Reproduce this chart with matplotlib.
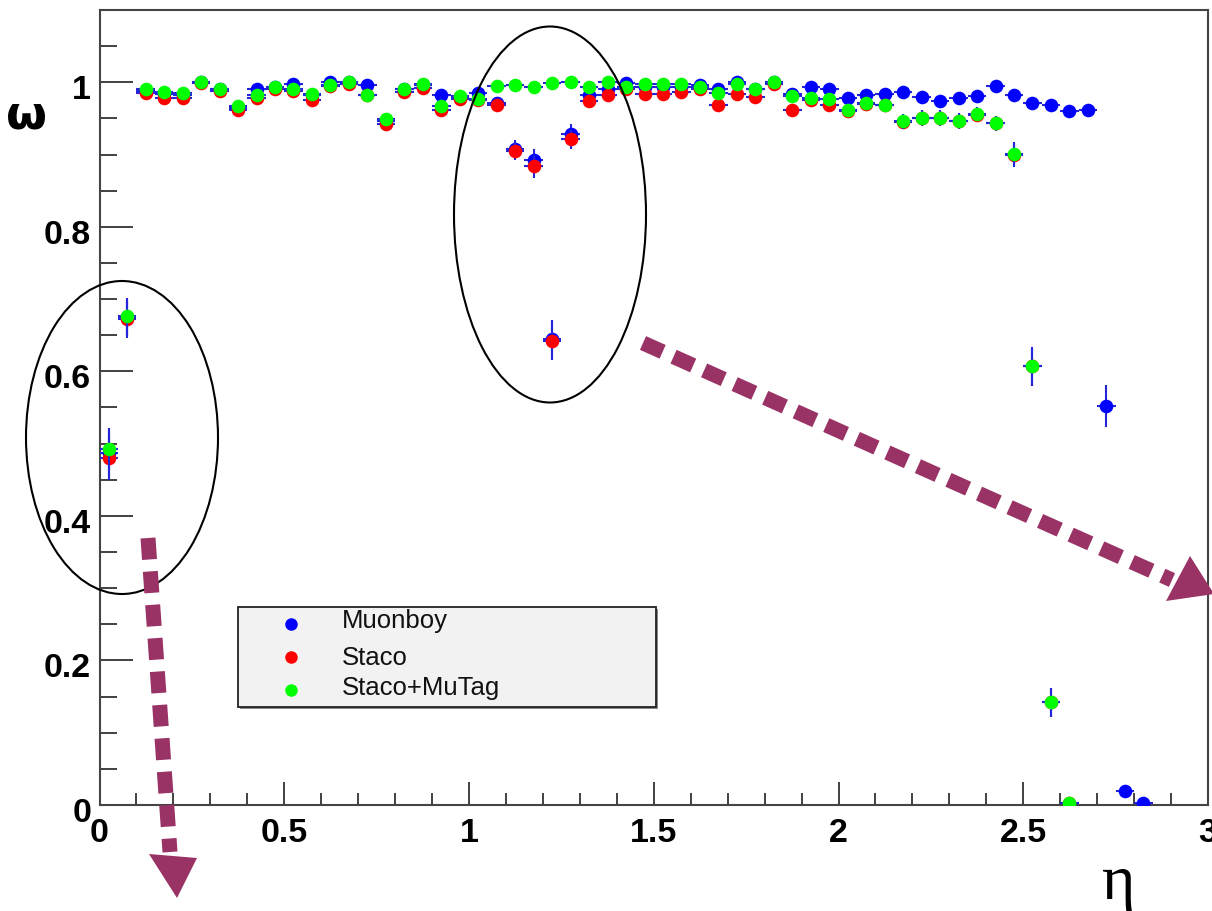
import numpy as np
import matplotlib
matplotlib.use("Agg")
import matplotlib.pyplot as plt
from matplotlib.patches import Ellipse, Rectangle, Polygon
from matplotlib.lines import Line2D
from matplotlib.ticker import MultipleLocator
import matplotlib.transforms as mtransforms

plt.rcParams['lines.scale_dashes'] = False

# ---------------- data ----------------
eta = np.round(np.arange(57) * 0.05 + 0.025, 3)
nan = np.nan
muonboy = [0.487, 0.675, 0.988, 0.984, 0.983, 1.000, 0.990, 0.965, 0.991, 0.993,
           0.997, 0.983, 1.000, 1.000, 0.996, 0.947, 0.990, 0.996, 0.982, 0.980,
           0.985, 0.972, 0.908, 0.892, 0.645, 0.929, 0.982, 0.991, 0.999, 0.993,
           0.993, 0.994, 0.996, 0.990, 1.000, 0.990, 1.000, 0.984, 0.994, 0.990,
           0.978, 0.983, 0.984, 0.987, 0.979, 0.974, 0.978, 0.981, 0.995, 0.983,
           0.971, 0.968, 0.960, 0.962, 0.552, 0.019, 0.003]
staco = [0.480, 0.672, 0.985, 0.978, 0.978, 0.999, 0.988, 0.962, 0.978, 0.990,
         0.988, 0.975, 0.995, 0.997, 0.982, 0.942, 0.986, 0.992, 0.961, 0.977,
         0.976, 0.968, 0.905, 0.884, 0.642, 0.921, 0.974, 0.983, 0.990, 0.984,
         0.984, 0.987, 0.990, 0.968, 0.984, 0.979, 0.998, 0.962, 0.975, 0.968,
         0.960, 0.970, 0.968, 0.945, 0.950, 0.950, 0.946, 0.955, 0.943, 0.900,
         0.607, 0.142, 0.003, nan, nan, nan, nan]
staco_mutag = [0.492, 0.676, 0.990, 0.987, 0.985, 1.000, 0.991, 0.967, 0.982, 0.994,
               0.990, 0.984, 0.996, 1.000, 0.983, 0.949, 0.990, 0.997, 0.967, 0.981,
               0.977, 0.995, 0.996, 0.994, 0.999, 1.000, 0.994, 1.000, 0.994, 0.997,
               0.997, 0.997, 0.994, 0.985, 0.997, 0.991, 1.000, 0.981, 0.978, 0.977,
               0.961, 0.971, 0.969, 0.946, 0.951, 0.951, 0.947, 0.956, 0.944, 0.901,
               0.607, 0.142, 0.003, nan, nan, nan, nan]

err_mb = [0.033, 0.026, 0.004, 0.004, 0.004, 0.003, 0.004, 0.006, 0.004, 0.004,
          0.004, 0.004, 0.003, 0.003, 0.004, 0.008, 0.004, 0.004, 0.006, 0.005,
          0.005, 0.006, 0.012, 0.016, 0.026, 0.013, 0.005, 0.004, 0.003, 0.004,
          0.004, 0.004, 0.004, 0.004, 0.003, 0.004, 0.003, 0.005, 0.004, 0.004,
          0.005, 0.005, 0.005, 0.005, 0.005, 0.005, 0.005, 0.005, 0.004, 0.005,
          0.005, 0.005, 0.006, 0.006, 0.029, 0.005, 0.003]
err_st = [0.030, 0.026, 0.004, 0.004, 0.004, 0.003, 0.004, 0.006, 0.004, 0.004,
          0.004, 0.004, 0.003, 0.003, 0.004, 0.008, 0.004, 0.004, 0.006, 0.005,
          0.005, 0.006, 0.012, 0.016, 0.026, 0.013, 0.005, 0.004, 0.004, 0.004,
          0.004, 0.004, 0.004, 0.005, 0.004, 0.004, 0.003, 0.006, 0.005, 0.005,
          0.006, 0.006, 0.006, 0.010, 0.010, 0.010, 0.010, 0.010, 0.010, 0.017,
          0.027, 0.020, 0.003, nan, nan, nan, nan]
err_mt = [0.030, 0.026, 0.004, 0.004, 0.004, 0.003, 0.004, 0.006, 0.004, 0.004,
          0.004, 0.004, 0.003, 0.003, 0.004, 0.008, 0.004, 0.004, 0.006, 0.005,
          0.005, 0.003, 0.003, 0.003, 0.003, 0.003, 0.003, 0.003, 0.003, 0.003,
          0.003, 0.003, 0.003, 0.004, 0.003, 0.004, 0.003, 0.005, 0.005, 0.005,
          0.006, 0.006, 0.006, 0.010, 0.010, 0.010, 0.010, 0.010, 0.010, 0.017,
          0.027, 0.020, 0.003, nan, nan, nan, nan]
bin_half = 0.025

series_names = ["Muonboy", "Staco", "Staco+MuTag"]
series_colors = ["#0000ff", "#ff0000", "#00ff00"]
series_values = [muonboy, staco, staco_mutag]
series_errors = [err_mb, err_st, err_mt]

x_ticks = [0, 0.5, 1, 1.5, 2, 2.5, 3]
x_ticklabels = ["0", "0.5", "1", "1.5", "2", "2.5", "3"]
y_ticks = [0, 0.2, 0.4, 0.6, 0.8, 1.0]
y_ticklabels = ["0", "0.2", "0.4", "0.6", "0.8", "1"]

# ---------------- figure ----------------
W, H = 1212, 911
fig = plt.figure(figsize=(W / 100, H / 100), dpi=100)
ax = fig.add_axes([99.5 / W, 1 - 805 / H, (1208 - 99.5) / W, (805 - 10) / H])

def fp(x, y):
    """pixel (from top-left) -> figure fraction"""
    return (x / W, 1 - y / H)

ecol = "#2424d8"
for name, col, vals, errs, z in zip(series_names, series_colors, series_values,
                                   series_errors, [3, 4, 5]):
    v = np.array(vals, dtype=float)
    e = np.array(errs, dtype=float)
    m = ~np.isnan(v)
    ax.errorbar(eta[m], v[m], yerr=e[m], xerr=bin_half, fmt='o', color=col,
                ecolor=ecol, elinewidth=1.5, capsize=0, ms=9.8, mew=0,
                zorder=z, label=name)

ax.set_xlim(0, 3)
ax.set_ylim(0, 1.1)
ax.set_xticks(x_ticks)
ax.set_xticklabels(x_ticklabels)
ax.set_yticks(y_ticks)
ax.set_yticklabels(y_ticklabels)
ax.xaxis.set_minor_locator(MultipleLocator(0.1))
ax.yaxis.set_minor_locator(MultipleLocator(0.05))
ax.tick_params(axis='x', which='major', direction='in', length=16.5, width=1.3,
               color='#333333', pad=9, labelsize=24.5)
ax.tick_params(axis='x', which='minor', direction='in', length=8.6, width=1.3,
               color='#333333')
ax.tick_params(axis='y', which='major', direction='in', length=23.8, width=1.3,
               color='#333333', pad=6, labelsize=24.5)
ax.tick_params(axis='y', which='minor', direction='in', length=12.2, width=1.3,
               color='#333333')
for lab in ax.get_xticklabels() + ax.get_yticklabels():
    lab.set_fontfamily(['Liberation Sans', 'DejaVu Sans'])
    lab.set_fontweight('bold')
off = mtransforms.ScaledTranslation(0, -5 / 100, fig.dpi_scale_trans)
for lab in ax.get_yticklabels():
    lab.set_transform(lab.get_transform() + off)
for sp in ax.spines.values():
    sp.set_color('#444444')
    sp.set_linewidth(1.5)

# axis titles
fig.text(*fp(27, 116), "ω", fontsize=34, fontweight='bold',
         family=['DejaVu Sans'], ha='center', va='center')
fig.text(*fp(1119, 884), "η", fontsize=46, family=['Liberation Serif', 'DejaVu Serif'],
         ha='center', va='center')

# legend box
shadow = Rectangle(fp(240, 709), (656 - 238) / W, (707 - 607) / H,
                   transform=fig.transFigure, facecolor='#888888', edgecolor='none',
                   zorder=9)
box = Rectangle(fp(238, 707), (656 - 238) / W, (707 - 607) / H,
                transform=fig.transFigure, facecolor='#f2f2f2', edgecolor='#222222',
                lw=1.3, zorder=10)
fig.add_artist(shadow)
fig.add_artist(box)
leg_marker_y = [624, 657, 690]
leg_text_y = [621, 658, 688]
for name, col, my, ty in zip(series_names, series_colors, leg_marker_y, leg_text_y):
    fig.add_artist(Line2D([291 / W], [1 - my / H], transform=fig.transFigure,
                          marker='o', ms=9, mew=0, color=col, linestyle='none',
                          zorder=11))
    fig.text(*fp(342, ty), name, fontsize=18.5, family=['Liberation Sans', 'DejaVu Sans'],
             ha='left', va='center', zorder=11, color='#111111')

# ellipses
for cx, cy, w, h in [(122, 437.5, 192, 313), (550, 214.5, 192, 376)]:
    fig.add_artist(Ellipse(fp(cx, cy), w / W, h / H, transform=fig.transFigure,
                           fill=False, edgecolor='black', lw=1.5, zorder=8))

# dashed arrows
acol = '#993366'
def dashed_arrow(p0, p1, base1, base2, tip):
    ln = Line2D([p0[0] / W, p1[0] / W], [1 - p0[1] / H, 1 - p1[1] / H],
                transform=fig.transFigure, color=acol, lw=10.8,
                solid_capstyle='butt', dash_capstyle='butt', zorder=12)
    ln.set_dashes((15.5, 8.6))
    fig.add_artist(ln)
    fig.add_artist(Polygon([fp(*base1), fp(*base2), fp(*tip)], closed=True,
                           transform=fig.transFigure, facecolor=acol,
                           edgecolor='none', zorder=12))

dashed_arrow((148, 538), (170, 852), (149, 854), (197, 858), (177, 898))
dashed_arrow((643, 343), (1172, 580), (1166, 601), (1190, 556), (1214, 594))

fig.savefig("out.png", dpi=100)
